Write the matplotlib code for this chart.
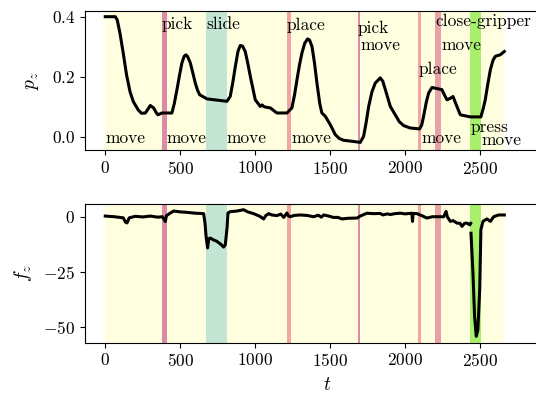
import numpy as np
import matplotlib
matplotlib.use('Agg')
import matplotlib.pyplot as plt

plt.rcParams['font.family'] = ['cmr10', 'DejaVu Serif']
plt.rcParams['mathtext.fontset'] = 'cm'
plt.rcParams['axes.formatter.use_mathtext'] = True
plt.rcParams['font.size'] = 12.5

# segments of the demonstration
seg_names = ['move', 'pick', 'move', 'slide', 'move', 'place', 'move', 'pick',
             'move', 'place', 'move', 'close-gripper', 'move', 'press', 'move']
seg_start = [0, 378, 411, 673, 811, 1211, 1240, 1682, 1700, 2087, 2105, 2200, 2240, 2433, 2505]
seg_end = seg_start[1:] + [2655]
seg_colors = {'move': '#ffffe0', 'pick': '#dc8ba6', 'place': '#f3a4a4',
              'close-gripper': '#e9a0a9', 'slide': '#c2e6d3', 'press': '#a8f06c'}
# label heights (in p_z units)
label_y = [-0.021, 0.359, -0.021, 0.359, -0.021, 0.357, -0.021, 0.347,
           0.288, 0.21, -0.021, 0.369, 0.288, 0.016, -0.029]

# p_z trace
t_p = [0, 67, 80, 98, 120, 142, 165, 187, 220, 242, 267, 285, 300, 322, 340, 351, 378,
       444, 460, 478, 495, 511, 526, 538, 550, 567, 585, 600, 615, 629, 678, 811, 833,
       850, 867, 885, 900, 915, 933, 950, 967, 1000, 1033, 1045, 1058, 1075, 1100, 1144,
       1211, 1244, 1262, 1278, 1295, 1311, 1330, 1349, 1362, 1378, 1395, 1411, 1430,
       1444, 1467, 1500, 1533, 1560, 1589, 1656, 1700, 1722, 1740, 1756, 1778, 1800,
       1833, 1850, 1867, 1900, 1933, 1960, 1989, 2033, 2096, 2110, 2122, 2140, 2156,
       2178, 2244, 2260, 2278, 2300, 2318, 2344, 2367, 2433, 2504, 2520, 2533, 2550,
       2567, 2585, 2600, 2633, 2660]
p_z = [0.400, 0.400, 0.389, 0.345, 0.278, 0.206, 0.150, 0.117, 0.089, 0.078, 0.079,
       0.092, 0.104, 0.096, 0.080, 0.073, 0.079,
       0.079, 0.110, 0.157, 0.205, 0.246, 0.268, 0.273, 0.266, 0.246, 0.210, 0.179,
       0.155, 0.140, 0.126, 0.118, 0.134,
       0.180, 0.234, 0.285, 0.304, 0.302, 0.284, 0.245, 0.201, 0.123, 0.101, 0.106,
       0.100, 0.098, 0.096, 0.079,
       0.079, 0.096, 0.140, 0.190, 0.240, 0.279, 0.312, 0.326, 0.322, 0.301, 0.245,
       0.179, 0.110,
       0.079, 0.068, 0.040, 0.007, -0.006, -0.012, -0.016, -0.019, 0.001, 0.050,
       0.101, 0.150, 0.179,
       0.196, 0.185, 0.157, 0.101, 0.073, 0.050, 0.037, 0.029, 0.026, 0.040, 0.068,
       0.115, 0.146,
       0.164, 0.157, 0.140, 0.123, 0.128, 0.134, 0.101, 0.073, 0.066, 0.066, 0.095,
       0.123, 0.175,
       0.223, 0.255, 0.268, 0.273, 0.284]

# f_z trace
t_f = [0, 60, 120, 135, 145, 160, 200, 250, 300, 350, 380, 395, 400, 408, 430, 456,
       500, 544, 600, 656, 665, 672, 682, 690, 700, 720, 744, 770, 789, 800, 812, 818,
       833, 880, 922, 950, 989, 1030, 1056, 1070, 1089, 1110, 1144, 1170, 1190, 1211,
       1222, 1233, 1260, 1300, 1344, 1389, 1420, 1440, 1456, 1490, 1520, 1550, 1578,
       1620, 1678, 1700, 1744, 1790, 1833, 1850, 1880, 1900, 1930, 1967, 2000, 2044,
       2048, 2052, 2078, 2110, 2144, 2180, 2211, 2256, 2272, 2280, 2300, 2320, 2344,
       2365, 2378, 2395, 2411, 2430, 2436, 2437, 2438, 2451, 2462, 2473, 2484, 2496,
       2504, 2518, 2544, 2567, 2589, 2622, 2660]
f_z = [0.3, 0.0, -0.5, -2.5, -2.8, -0.5, 0.2, -0.1, 0.3, -0.2, 0.0, -1.5, -2.2, 0.5,
       1.5, 2.6, 2.2, 2.0, 1.6, 1.4, -3.0, -9.0, -14.2, -10.0, -9.7, -10.5, -11.2,
       -12.5, -13.8, -12.8, -5.0, 1.7, 2.3, 2.6, 3.2, 2.2, 1.4, 0.2, -1.0, 0.5, 1.4,
       0.8, 0.5, 1.2, -0.3, 1.7, 0.3, 0.0, 0.6, 0.8, 0.6, 0.0, 0.7, -0.2, 0.8, 0.3,
       -0.3, -0.3, -1.0, -0.7, -0.6, 0.3, 1.6, 1.4, 1.5, 0.8, 1.3, 1.0, 1.4, 1.6, 1.3,
       1.6, -2.1, 1.5, 1.4, 0.5, -0.6, 0.0, 0.0, 0.0, 2.4, 0.0, -2.1, -1.8, -2.9, -3.0,
       -4.4, -3.0, -2.9, -3.7, -3.0, np.nan, -7.5, -25.6, -45.3, -54.4, -51.4, -33.2,
       -5.9, -2.1, -1.0, -2.1, 0.0, 0.8, 0.8]

fig = plt.figure(figsize=(5.36, 3.97), dpi=100)
ax1 = fig.add_axes([0.1586, 0.6222, 0.9054, 0.3501])
ax2 = fig.add_axes([0.1586, 0.1368, 0.9054, 0.3494], sharex=ax1)

for ax in (ax1, ax2):
    for s, e, n in zip(seg_start, seg_end, seg_names):
        ax.axvspan(s, e, color=seg_colors[n], lw=0, zorder=0)

ax1.plot(t_p, p_z, color='black', lw=2.2)
ax2.plot(t_f, f_z, color='black', lw=2.2)

for s, n, y in zip(seg_start, seg_names, label_y):
    ax1.text(s, y, n, ha='left', va='baseline')

ax1.set_xlim(-135, 3100)
ax1.set_ylim(-0.0443, 0.419)
ax2.set_ylim(-57.3, 5.8)
ax1.set_yticks([0.0, 0.2, 0.4])
ax2.set_yticks([0, -25, -50])
ax1.set_xticks([0, 500, 1000, 1500, 2000, 2500])
ax1.set_ylabel('$p_z$', fontsize=14, labelpad=8)
ax2.set_ylabel('$f_z$', fontsize=14, labelpad=7)
ax2.set_xlabel('$t$', fontsize=14, labelpad=5)

fig.savefig('out.png', dpi=100)
